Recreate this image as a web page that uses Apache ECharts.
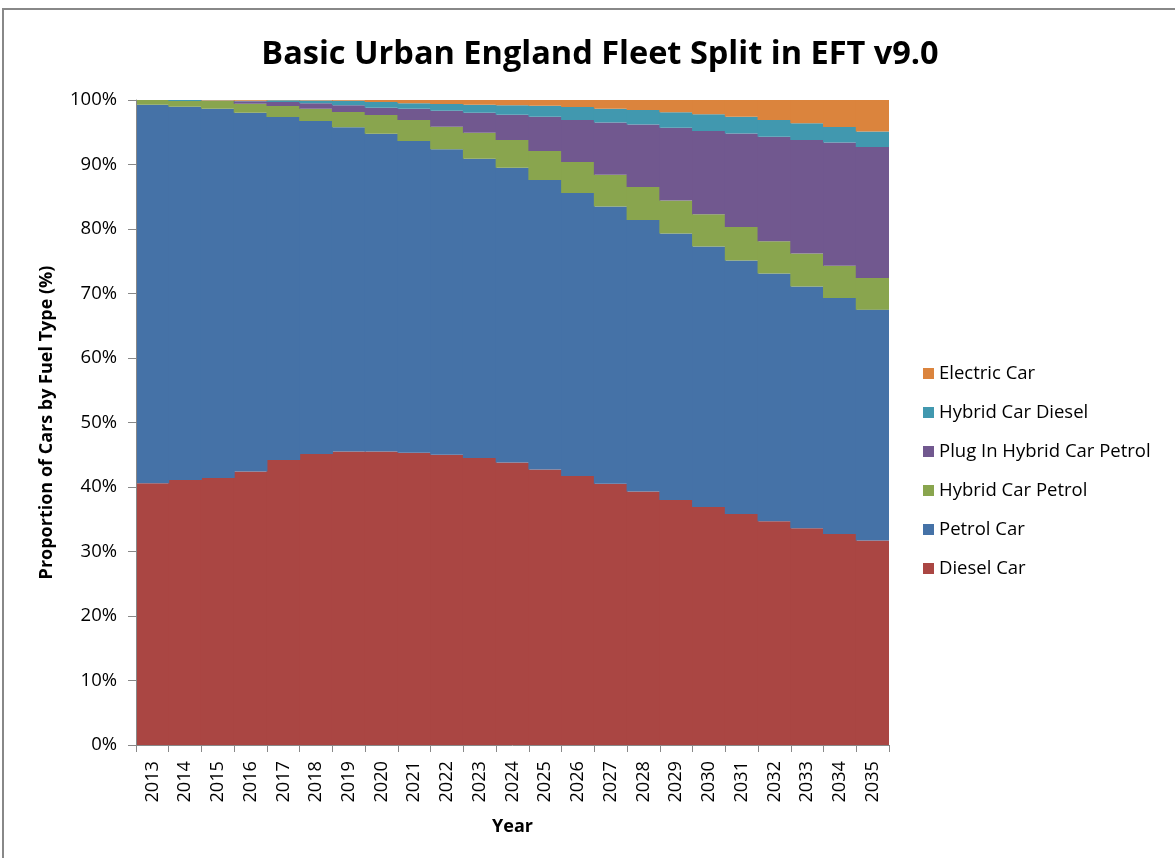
<!DOCTYPE html>
<html>
<head>
<meta charset="utf-8">
<script src="https://cdn.jsdelivr.net/npm/echarts@6/dist/echarts.min.js"></script>
<style>
html,body{margin:0;padding:0;background:#fff;}
#chart{width:1175px;height:858px;}
</style>
</head>
<body>
<div id="chart"></div>
<script>
var years = ['2013','2014','2015','2016','2017','2018','2019','2020','2021','2022','2023','2024','2025','2026','2027','2028','2029','2030','2031','2032','2033','2034','2035'];
var dieselCar = [40.6,41.1,41.4,42.4,44.2,45.1,45.5,45.5,45.3,45.0,44.5,43.8,42.7,41.7,40.5,39.3,38.0,36.9,35.8,34.7,33.6,32.7,31.7];
var petrolCar = [58.67,57.86,57.25,55.63,53.16,51.64,50.26,49.28,48.34,47.35,46.4,45.7,44.9,43.9,43.0,42.1,41.3,40.4,39.3,38.4,37.5,36.6,35.8];
var hybridCarPetrol = [0.73,0.88,1.19,1.37,1.71,1.91,2.38,2.89,3.26,3.51,4.03,4.3,4.5,4.8,4.9,5.1,5.1,5.0,5.2,5.0,5.1,5.0,4.9];
var plugInHybridCarPetrol = [0,0,0.02,0.4,0.62,0.83,1.03,1.13,1.75,2.49,3.1,3.9,5.3,6.5,8.1,9.7,11.3,12.9,14.5,16.2,17.6,19.1,20.3];
var hybridCarDiesel = [0,0.16,0.06,0.1,0.26,0.45,0.73,0.89,0.83,1.03,1.25,1.5,1.7,2.0,2.15,2.25,2.4,2.6,2.6,2.6,2.6,2.4,2.4];
var electricCar = [0,0,0.08,0.1,0.05,0.07,0.1,0.31,0.52,0.62,0.72,0.8,0.9,1.1,1.35,1.55,1.9,2.2,2.6,3.1,3.6,4.2,4.9];
var yTicks = [0,10,20,30,40,50,60,70,80,90,100];

var seriesDefs = [
  ['Diesel Car', dieselCar, '#AA4643'],
  ['Petrol Car', petrolCar, '#4572A7'],
  ['Hybrid Car Petrol', hybridCarPetrol, '#89A54E'],
  ['Plug In Hybrid Car Petrol', plugInHybridCarPetrol, '#71588F'],
  ['Hybrid Car Diesel', hybridCarDiesel, '#4198AF'],
  ['Electric Car', electricCar, '#DB843D']
];

var chart = echarts.init(document.getElementById('chart'), null, {renderer:'canvas'});
var FONT = '"Open Sans", "Noto Sans", sans-serif';
var option = {
  backgroundColor: '#fff',
  animation: false,
  title: {
    text: 'Basic Urban England Fleet Split in EFT v9.0',
    left: 595, top: 33, textAlign: 'center',
    textStyle: {fontFamily: FONT, fontSize: 32.5, fontWeight: 'bold', color: '#000'}
  },
  graphic: [{
    type: 'rect', shape: {x: 3, y: 9, width: 1200, height: 900},
    style: {fill: 'none', stroke: '#888', lineWidth: 2}, silent: true
  }],
  legend: {
    orient: 'vertical', left: 918, top: 359, itemGap: 20,
    itemWidth: 11, itemHeight: 11, icon: 'rect',
    data: seriesDefs.map(function(s){return s[0];}).reverse(),
    textStyle: {fontFamily: FONT, fontSize: 18.5, color: '#000', padding:[0,0,0,0]}
  },
  grid: {left: 136, right: 286, top: 100, bottom: 113},
  xAxis: {
    type: 'category', data: years, z: 5,
    name: 'Year', nameLocation: 'middle', nameGap: 73,
    nameTextStyle: {fontFamily: FONT, fontSize: 18, fontWeight: 'bold', color: '#000'},
    axisLine: {show: true, lineStyle: {color: '#888', width: 1}},
    axisTick: {show: true, length: 7, lineStyle: {color: '#888'}},
    axisLabel: {rotate: 90, fontFamily: FONT, fontSize: 18.2, color: '#000', margin: 16}
  },
  yAxis: {
    type: 'value', min: 0, max: 100, interval: 10, z: 5,
    name: 'Proportion of Cars by Fuel Type (%)', nameLocation: 'middle', nameGap: 80,
    nameTextStyle: {fontFamily: FONT, fontSize: 18, fontWeight: 'bold', color: '#000'},
    axisLine: {show: true, lineStyle: {color: '#888', width: 1}},
    axisTick: {show: true, length: 8, lineStyle: {color: '#888'}},
    splitLine: {show: false},
    axisLabel: {formatter: '{value}%', fontFamily: FONT, fontSize: 18.5, color: '#000', margin: 19}
  },
  series: seriesDefs.map(function(s){
    return {
      name: s[0], type: 'bar', stack: 'total', data: s[1],
      barWidth: '103%', barGap: '-100%',
      itemStyle: {color: s[2]}
    };
  })
};
chart.setOption(option);
</script>
</body>
</html>
